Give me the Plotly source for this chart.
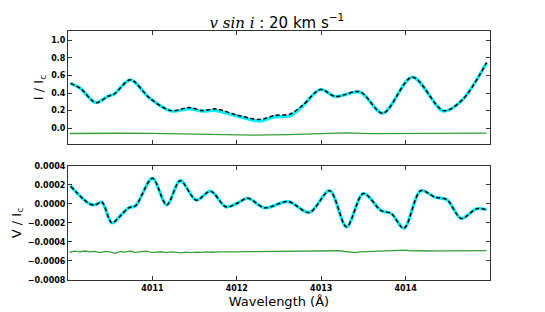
import plotly.graph_objects as go
from plotly.subplots import make_subplots

# ---- data ----
wl_I = [4010.03, 4010.15, 4010.33, 4010.47, 4010.55, 4010.74, 4010.97, 4011.22,
        4011.44, 4011.59, 4011.75, 4012.00, 4012.27, 4012.45, 4012.63, 4012.78,
        4012.99, 4013.17, 4013.46, 4013.73, 4014.08, 4014.45, 4014.67, 4014.96]
I_obs = [0.51, 0.45, 0.29, 0.36, 0.39, 0.55, 0.34, 0.20, 0.235, 0.20, 0.22, 0.15,
         0.10, 0.145, 0.16, 0.26, 0.44, 0.36, 0.415, 0.17, 0.58, 0.20, 0.32, 0.745]
I_mod = [0.51, 0.45, 0.29, 0.36, 0.39, 0.55, 0.34, 0.195, 0.22, 0.195, 0.20, 0.14,
         0.08, 0.13, 0.14, 0.25, 0.44, 0.36, 0.41, 0.17, 0.58, 0.195, 0.32, 0.745]

wl_Ires = [4010.02, 4010.3, 4010.6, 4011.0, 4011.4, 4011.8, 4012.2, 4012.6, 4013.0,
           4013.3, 4013.6, 4014.0, 4014.4, 4014.7, 4014.96]
I_res = [-0.06, -0.062, -0.057, -0.058, -0.065, -0.075, -0.078, -0.074, -0.065,
         -0.053, -0.062, -0.06, -0.066, -0.058, -0.055]

wl_V = [4010.03, 4010.18, 4010.26, 4010.32, 4010.40, 4010.52, 4010.62, 4010.72,
        4010.80, 4011.00, 4011.17, 4011.33, 4011.52, 4011.69, 4011.87, 4012.00,
        4012.13, 4012.33, 4012.61, 4012.86, 4013.10, 4013.30, 4013.50, 4013.71,
        4013.83, 4013.98, 4014.18, 4014.35, 4014.49, 4014.66, 4014.84, 4014.96]
V_obs = [0.000188, 0.000053, 0.0, -0.00001, 0.00002, -0.0002, -0.000125, -0.00004,
         -0.00002, 0.00027, -0.00001, 0.000245, 0.00004, 0.000135, -0.00003, 0.000005,
         0.00006, -0.00004, 0.000025, -0.00009, 0.00014, -0.00024, 0.00011, -0.00007,
         -0.0001, -0.000256, 0.00014, 0.00007, 0.000045, -0.000153, -0.00005, -0.00006]
V_mod = V_obs

wl_Vres = [4010.02, 4010.08, 4010.14, 4010.20, 4010.26, 4010.32, 4010.38, 4010.44,
           4010.50, 4010.56, 4010.62, 4010.68, 4010.74, 4010.80, 4010.86, 4010.92,
           4010.98, 4011.04, 4011.10, 4011.16, 4011.22, 4011.28, 4011.34, 4011.40,
           4011.46, 4011.52, 4011.58, 4011.64, 4011.70,
           4011.80, 4011.90, 4012.00, 4012.10, 4012.20, 4012.30, 4012.40, 4012.50,
           4012.60, 4012.70, 4012.80, 4012.90, 4013.00, 4013.10,
           4013.16, 4013.22, 4013.28, 4013.34, 4013.40, 4013.46, 4013.52, 4013.58,
           4013.64, 4013.70, 4013.76, 4013.82, 4013.88, 4013.94, 4014.00, 4014.06,
           4014.12, 4014.18, 4014.24, 4014.30,
           4014.40, 4014.50, 4014.60, 4014.70, 4014.80, 4014.90, 4014.96]
V_res = [-0.000508, -0.000497, -0.000503, -0.000495, -0.000505, -0.000499, -0.000512,
         -0.000498, -0.000504, -0.000520, -0.000500, -0.000507, -0.000494, -0.000511,
         -0.000502, -0.000497, -0.000506, -0.000510, -0.000503, -0.000512, -0.000505,
         -0.000509, -0.000515, -0.000507, -0.000511, -0.000506, -0.000510, -0.000505,
         -0.000508,
         -0.000504, -0.000506, -0.000503, -0.000502, -0.000501, -0.000499, -0.000497,
         -0.000498, -0.000496, -0.000497, -0.000496, -0.000497, -0.000498, -0.000496,
         -0.000494, -0.000492, -0.000500, -0.000508, -0.000512, -0.000505, -0.000503,
         -0.000498, -0.000500, -0.000494, -0.000492, -0.000496, -0.000489, -0.000493,
         -0.000486, -0.000494, -0.000490, -0.000492, -0.000495, -0.000492,
         -0.000494, -0.000493, -0.000492, -0.000492, -0.000491, -0.000490, -0.000490]

I_ticks = [0.0, 0.2, 0.4, 0.6, 0.8, 1.0]
V_ticks = [-0.0008, -0.0006, -0.0004, -0.0002, 0.0, 0.0002, 0.0004]
wl_ticks = [4011, 4012, 4013, 4014]

CYAN = "#00eef5"
GREEN = "#35a035"
AX = "#333333"

fig = make_subplots(rows=2, cols=1, shared_xaxes=False, vertical_spacing=0.088)

def add_panel(row, wl, mod, obs, wlr, res):
    fig.add_trace(go.Scatter(x=wl, y=mod, mode="lines", line=dict(color=CYAN, width=3.2, shape="spline", smoothing=0.9),
                             showlegend=False, hoverinfo="skip"), row=row, col=1)
    fig.add_trace(go.Scatter(x=wl, y=obs, mode="lines", line=dict(color="black", width=1.5, dash="4px,2.5px", shape="spline", smoothing=0.9),
                             showlegend=False, hoverinfo="skip"), row=row, col=1)
    fig.add_trace(go.Scatter(x=wlr, y=res, mode="lines", line=dict(color=GREEN, width=1.3),
                             showlegend=False, hoverinfo="skip"), row=row, col=1)

add_panel(1, wl_I, I_mod, I_obs, wl_Ires, I_res)
add_panel(2, wl_V, V_mod, V_obs, wl_Vres, V_res)

tickfont = dict(family="DejaVu Sans", size=8, color="black", weight="bold")
common = dict(showgrid=False, zeroline=False, showline=True, linecolor=AX, linewidth=1, automargin=False,
              mirror="ticks", ticks="inside", ticklen=4, tickcolor=AX, tickwidth=1, tickfont=tickfont)

fig.update_xaxes(range=[4010.0, 4015.0], tickvals=wl_ticks, **common)
fig.update_xaxes(showticklabels=False, row=1, col=1)
fig.update_xaxes(ticktext=[str(t) for t in wl_ticks], row=2, col=1,
                 title=dict(text="Wavelength (Å)", font=dict(family="DejaVu Sans", size=13, color="black"), standoff=5))

fig.update_yaxes(**common)
fig.update_yaxes(range=[-0.18, 1.105], tickvals=I_ticks, tickformat=".1f", row=1, col=1,
                 title=dict(text="I / I<sub>c</sub>", font=dict(family="DejaVu Sans", size=13, color="black"), standoff=4))
fig.update_yaxes(range=[-0.0008, 0.0004], tickvals=V_ticks, tickformat=".4f", row=2, col=1,
                 title=dict(text="V / I<sub>c</sub>", font=dict(family="DejaVu Sans", size=13, color="black"), standoff=3))

fig.update_layout(
    width=545, height=312,
    margin=dict(l=68, r=55, t=31, b=32, autoexpand=False),
    paper_bgcolor="white", plot_bgcolor="white",
    title=dict(text="<span style='font-family:DejaVu Serif'><i>v sin i</i></span> : 20 km s<sup>−1</sup>",
               x=0.508, xanchor="center", xref="container", y=0.928, yanchor="middle", yref="container",
               font=dict(family="DejaVu Sans", size=15, color="black")),
)
fig.layout.yaxis.domain = [0.546, 1.0]
fig.layout.yaxis2.domain = [0.0, 0.458]

fig.write_html("out.html", config={"displayModeBar": False},
               post_script="document.body.style.margin='0';document.body.style.overflow='hidden';")
